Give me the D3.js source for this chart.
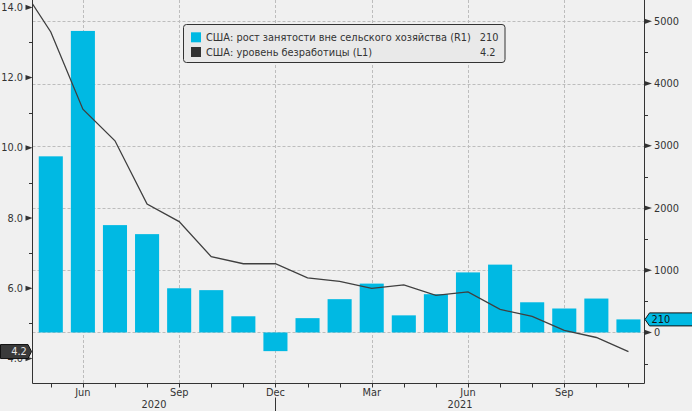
<!DOCTYPE html>
<html>
<head>
<meta charset="utf-8">
<script src="https://cdn.jsdelivr.net/npm/d3@7"></script>
<style>
  html, body { margin: 0; padding: 0; background: #f0f0f0; }
  svg { display: block; }
  text { font-family: "DejaVu Sans", sans-serif; font-size: 9.8px; fill: #333; }
</style>
</head>
<body>
<svg id="chart" width="692" height="411"></svg>
<script>
// ---- data ----
const months = ["2020-04","2020-05","2020-06","2020-07","2020-08","2020-09","2020-10","2020-11","2020-12",
                "2021-01","2021-02","2021-03","2021-04","2021-05","2021-06","2021-07","2021-08","2021-09","2021-10","2021-11"];
const unemployment = [14.7, 13.3, 11.1, 10.2, 8.4, 7.9, 6.9, 6.7, 6.7, 6.3, 6.2, 6.0, 6.1, 5.8, 5.9, 5.4, 5.2, 4.8, 4.6, 4.2];
const payrolls = [null, 2830, 4845, 1725, 1580, 710, 680, 260, -300, 230, 535, 785, 275, 615, 965, 1090, 485, 385, 545, 210];
const monthNames = ["Jan","Feb","Mar","Apr","May","Jun","Jul","Aug","Sep","Oct","Nov","Dec"];
const years = ["2020", "2021"];
const leftTicks = [4, 6, 8, 10, 12, 14];
const leftMinorTicks = [5, 7, 9, 11, 13];
const rightTicks = [0, 1000, 2000, 3000, 4000, 5000];
const rightMinorTicks = [-500, 500, 1500, 2500, 3500, 4500];
const legendLabels = ["США: рост занятости вне сельского хозяйства (R1)", "США: уровень безработицы (L1)"];
const lastPayroll = payrolls[payrolls.length - 1];
const lastUnemp = unemployment[unemployment.length - 1];

// ---- layout ----
const W = 692, H = 411;
const L = 32.5, R = 644.5, T = 0, B = 383.5;
const barColor = "#00b9e3", lineColor = "#3f3f3f", axisColor = "#333", gridColor = "#bdbdbd";

const svg = d3.select("#chart");
svg.append("rect").attr("width", W).attr("height", H).attr("fill", "#f0f0f0");

const idx = months.map((m, i) => i);
const x = d3.scaleLinear().domain([0.43, 19.5]).range([L, R]);
const yL = d3.scaleLinear().domain([3.29, 14.21]).range([B, T]);
const yR = d3.scaleLinear().domain([-820, 5342]).range([B, T]);

svg.append("clipPath").attr("id", "plot").append("rect")
  .attr("x", L).attr("y", T).attr("width", R - L).attr("height", B - T);

const parsed = months.map(m => { const [y, mo] = m.split("-").map(Number); return {y, mo}; });
const quarterIdx = idx.filter(i => parsed[i].mo % 3 === 0 && x(i) > L && x(i) < R);

// ---- grid ----
const grid = svg.append("g").attr("stroke", gridColor).attr("stroke-dasharray", "3,2").attr("stroke-width", 1);
grid.selectAll("line.h").data(rightTicks).join("line")
  .attr("x1", L).attr("x2", R)
  .attr("y1", d => Math.round(yR(d)) + 0.5).attr("y2", d => Math.round(yR(d)) + 0.5);
grid.selectAll("line.v").data(quarterIdx).join("line")
  .attr("y1", T).attr("y2", B)
  .attr("x1", d => Math.round(x(d)) + 0.5).attr("x2", d => Math.round(x(d)) + 0.5);

// ---- bars ----
const bw = (x(1) - x(0)) * 0.75;
svg.append("g").attr("clip-path", "url(#plot)").selectAll("rect")
  .data(idx.filter(i => payrolls[i] !== null)).join("rect")
  .attr("x", i => x(i) - bw / 2).attr("width", bw)
  .attr("y", i => yR(Math.max(0, payrolls[i])))
  .attr("height", i => Math.abs(yR(payrolls[i]) - yR(0)))
  .attr("fill", barColor);

// ---- line ----
const line = d3.line().x(i => x(i)).y(i => yL(unemployment[i]));
svg.append("path").attr("clip-path", "url(#plot)")
  .datum(idx).attr("d", line)
  .attr("fill", "none").attr("stroke", lineColor).attr("stroke-width", 1.3);

// ---- axes ----
const ax = svg.append("g").attr("stroke", axisColor).attr("stroke-width", 1);
ax.append("line").attr("x1", L).attr("x2", L).attr("y1", T).attr("y2", B);
ax.append("line").attr("x1", R).attr("x2", R).attr("y1", T).attr("y2", B);
ax.append("line").attr("x1", L).attr("x2", R).attr("y1", B).attr("y2", B);

// left axis
svg.append("g").selectAll("path").data(leftTicks).join("path")
  .attr("d", d => { const y = yL(d); return `M${L - 7},${y - 2.6}L${L},${y}L${L - 7},${y + 2.6}Z`; })
  .attr("fill", "#333");
svg.append("g").selectAll("text").data(leftTicks).join("text")
  .attr("x", L - 9.5).attr("y", d => yL(d)).attr("dy", "0.36em")
  .attr("text-anchor", "end").text(d => d3.format(".1f")(d));
ax.selectAll("line.lm").data(leftMinorTicks).join("line")
  .attr("x1", L - 3.5).attr("x2", L)
  .attr("y1", d => Math.round(yL(d)) + 0.5).attr("y2", d => Math.round(yL(d)) + 0.5);

// right axis
svg.append("g").selectAll("path").data(rightTicks).join("path")
  .attr("d", d => { const y = yR(d); return `M${R},${y - 2.6}L${R + 7.5},${y}L${R},${y + 2.6}Z`; })
  .attr("fill", "#333");
svg.append("g").selectAll("text").data(rightTicks).join("text")
  .attr("x", R + 9.5).attr("y", d => yR(d)).attr("dy", "0.36em")
  .attr("text-anchor", "start").text(d => d);
ax.selectAll("line.rm").data(rightMinorTicks).join("line")
  .attr("x1", R).attr("x2", R + 3.5)
  .attr("y1", d => Math.round(yR(d)) + 0.5).attr("y2", d => Math.round(yR(d)) + 0.5);

// bottom axis
ax.selectAll("line.bt").data(idx.filter(i => x(i) > L && x(i) < R)).join("line")
  .attr("x1", i => Math.round(x(i)) + 0.5).attr("x2", i => Math.round(x(i)) + 0.5)
  .attr("y1", B).attr("y2", B + 4);
svg.append("g").selectAll("text").data(quarterIdx).join("text")
  .attr("x", i => x(i)).attr("y", B + 12.5)
  .attr("text-anchor", "middle").text(i => monthNames[parsed[i].mo - 1]);

// year labels and separator (at December tick)
const decIdx = idx.filter(i => parsed[i].mo === 12 && x(i) > L && x(i) < R);
const bounds = [L, ...decIdx.map(i => x(i)), R];
svg.append("g").selectAll("text").data(years).join("text")
  .attr("x", (d, k) => (bounds[k] + bounds[k + 1]) / 2).attr("y", B + 24.5)
  .attr("text-anchor", "middle").text(d => d);
ax.selectAll("line.ys").data(decIdx).join("line")
  .attr("x1", i => Math.round(x(i)) + 0.5).attr("x2", i => Math.round(x(i)) + 0.5)
  .attr("y1", B + 14).attr("y2", H);

// ---- value tags ----
{
  const y = yL(lastUnemp);
  svg.append("path")
    .attr("d", `M0.5,${y - 7}L28,${y - 7}L31.5,${y}L28,${y + 7}L0.5,${y + 7}Z`)
    .attr("fill", "#3a3a3a").attr("stroke", "#111").attr("stroke-width", 1);
  svg.append("text").attr("x", 19).attr("y", y).attr("dy", "0.36em")
    .attr("text-anchor", "middle").style("fill", "#e6e6e6").text(d3.format(".1f")(lastUnemp));
}
{
  const y = yR(lastPayroll);
  svg.append("path")
    .attr("d", `M${R + 0.5},${y}L${R + 5},${y - 6.5}L${W + 2},${y - 6.5}L${W + 2},${y + 6.5}L${R + 5},${y + 6.5}Z`)
    .attr("fill", barColor).attr("stroke", "#111").attr("stroke-width", 1);
  svg.append("text").attr("x", R + 7).attr("y", y).attr("dy", "0.36em")
    .style("fill", "#111").text(lastPayroll);
}

// ---- legend ----
const lg = svg.append("g");
lg.append("rect").attr("x", 183.5).attr("y", 24.5).attr("width", 321.5).attr("height", 38).attr("rx", 3)
  .attr("fill", "#e9e9e9").attr("stroke", "#333").attr("stroke-width", 1);
const legendColors = [barColor, "#333"];
const legendValues = [String(lastPayroll), d3.format(".1f")(lastUnemp)];
const legendValueX = [498.5, 495.5];
legendLabels.forEach((lab, k) => {
  const cy = 37.3 + k * 14.7;
  lg.append("rect").attr("x", 191).attr("y", cy - 5).attr("width", 10).attr("height", 10).attr("fill", legendColors[k]);
  lg.append("text").attr("x", 206).attr("y", cy).attr("dy", "0.36em").text(lab);
  lg.append("text").attr("x", legendValueX[k]).attr("y", cy).attr("dy", "0.36em")
    .attr("text-anchor", "end").text(legendValues[k]);
});
</script>
</body>
</html>
